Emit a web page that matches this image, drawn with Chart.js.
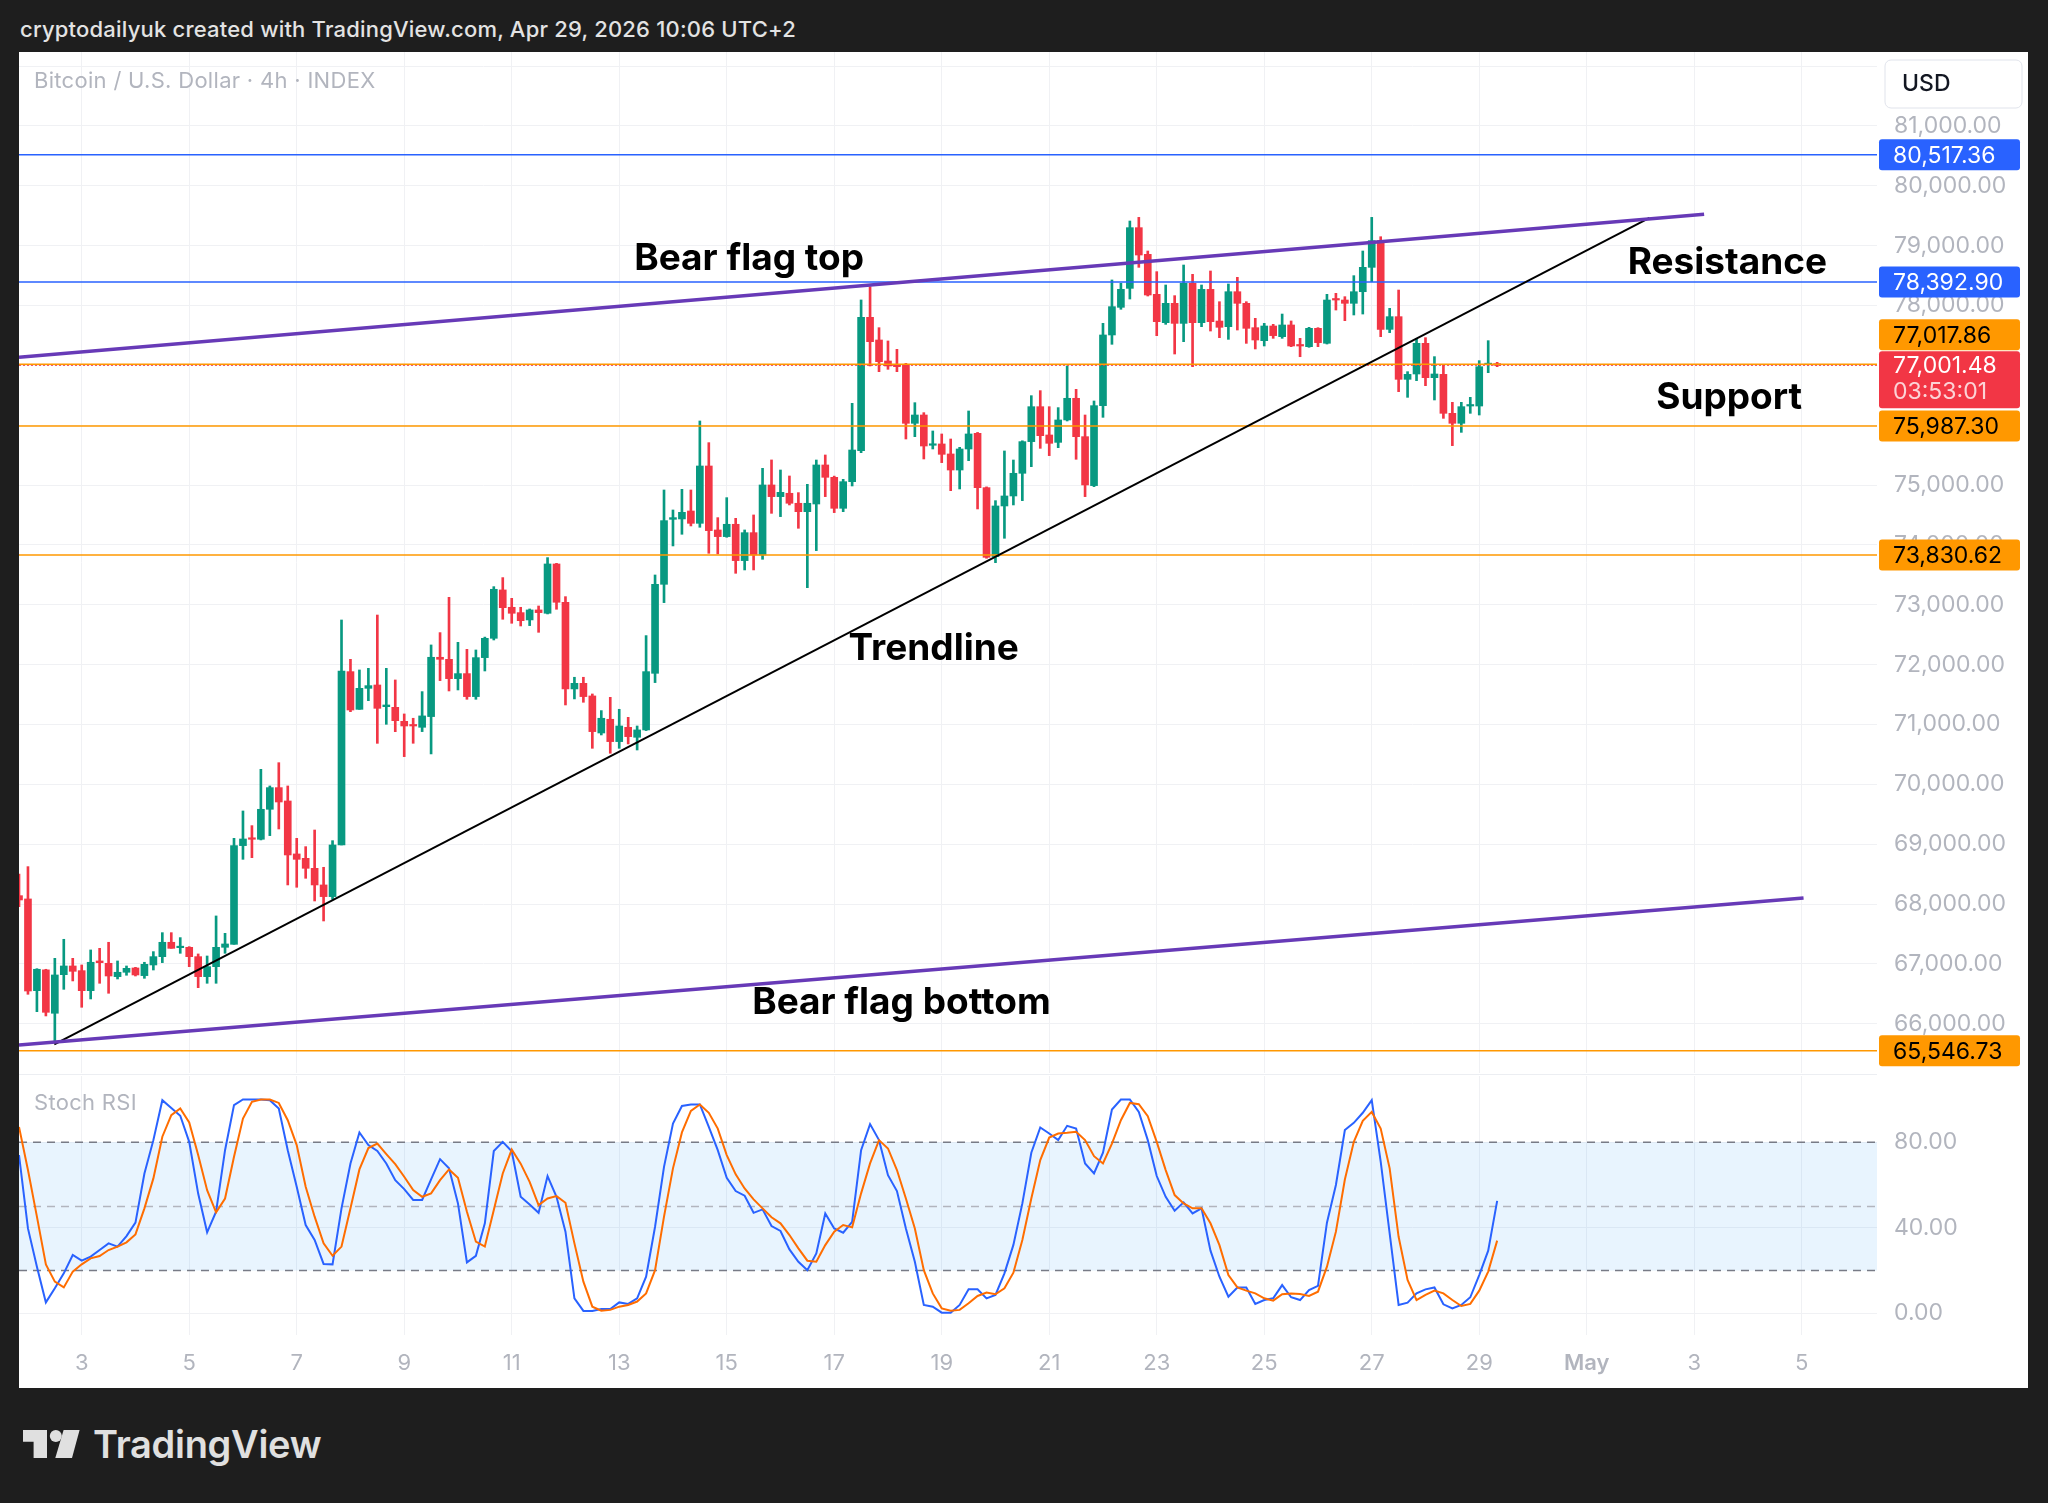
<!DOCTYPE html>
<html lang="en">
<head>
<meta charset="utf-8">
<title>Bitcoin / U.S. Dollar · 4h</title>
<script src="https://cdn.jsdelivr.net/npm/chart.js@4.4.1/dist/chart.umd.min.js"></script>
<style>
  html, body { margin: 0; padding: 0; }
  body { position: relative; width: 2048px; height: 1503px; background: #1e1e1e; overflow: hidden; font-family: Inter, "Noto Sans", sans-serif; }
  #header { position: absolute; left: 20px; top: 16px; color: #e3e3e3; font-size: 22px; font-weight: 500; letter-spacing: 0.2px; white-space: nowrap; }
  #panel { position: absolute; left: 19px; top: 52px; width: 2009px; height: 1336px; background: #fff; }
  #mainCanvas { position: absolute; left: 0; top: 0; }
  #stochCanvas { position: absolute; left: 0; top: 1024px; }
  #divider { position: absolute; left: 0; top: 1022px; width: 1858px; height: 1px; background: #eceef2; }
  .pane-title { position: absolute; left: 15px; color: #b2b5be; font-size: 22px; letter-spacing: 0.3px; white-space: nowrap; }
  #footer { position: absolute; left: 23px; top: 1430px; height: 28px; display: flex; align-items: center; color: #e0e0e0; }
  #footer span { margin-left: 13px; font-size: 38px; font-weight: 600; letter-spacing: -0.3px; }
</style>
</head>
<body>
<div id="header">cryptodailyuk created with TradingView.com, Apr 29, 2026 10:06 UTC+2</div>
<div id="panel">
  <canvas id="mainCanvas" width="2009" height="1021"></canvas>
  <div id="divider"></div>
  <canvas id="stochCanvas" width="2009" height="312"></canvas>
  <div class="pane-title" style="top:15px;">Bitcoin / U.S. Dollar · 4h · INDEX</div>
  <div class="pane-title" style="top:1037px;">Stoch RSI</div>
</div>
<div id="footer">
  <svg width="57" height="28" viewBox="0 0 57 28">
    <path d="M0 0H24V28H10.6V11.7H0Z" fill="#e0e0e0"/>
    <circle cx="32.8" cy="6" r="6" fill="#e0e0e0"/>
    <path d="M40.6 0H56.6L49 28H32.3Z" fill="#e0e0e0"/>
  </svg>
  <span>TradingView</span>
</div>

<script>
// 4h candles, index 0 = Apr 1 20:00, one step per candle
const opens = [68140,68085,66553,66900,66175,66820,66965,66887,66553,67049,
  67010,66787,66860,66932,66804,66982,67121,67361,67271,67277,
  67121,66787,66954,67277,67327,68976,69104,69082,69583,69945,
  69722,68837,68764,68597,68319,68124,68987,71883,71253,71604,
  71660,71298,71287,71053,70998,70953,71132,72123,72089,71766,
  71850,71466,72117,72440,73248,72958,72869,72747,72914,72858,
  73682,73042,71594,71688,71477,70858,71087,70714,70953,70786,
  70909,71855,73342,74428,74434,74567,74361,75319,74250,74139,
  74345,73738,74205,73832,75002,74807,74863,74696,74556,74684,
  75336,75130,74612,75057,75575,77803,77424,77073,77006,77006,
  76032,76171,75665,75687,75520,75252,75603,75865,74957,73805,
  74651,74818,75197,75726,76310,75837,75714,76088,76450,75809,
  74991,76327,77508,77970,78287,79301,78855,78187,77714,78037,
  77702,78371,77714,78270,77741,77647,78231,78037,77630,77413,
  77658,77480,77675,77340,77313,77619,77369,78109,78092,78037,
  78231,78638,79084,77602,77814,76767,76856,77368,76795,76850,
  76199,76032,76321,76321,77012,77029];
const highs = [68502,68625,66920,66910,67093,67411,67093,66982,67233,67260,
  67361,67049,66965,66943,67027,67205,67522,67522,67439,67288,
  67166,67132,67801,67511,69098,69555,69310,70251,69973,70362,
  69973,69098,68959,69237,68614,69059,72746,72089,71911,71938,
  72829,71938,71744,71176,71104,71549,72329,72535,73125,72373,
  72256,72245,72460,73303,73454,73108,72958,72930,72980,73788,
  73693,73136,71789,71789,71510,71232,71454,71254,71120,70975,
  72485,73498,74918,74584,74929,74918,76071,75709,74456,74790,
  74445,74250,74501,75280,75420,75252,75152,74874,75013,75419,
  75503,75150,75096,76366,78093,78315,77630,77408,77268,77034,
  76377,76210,75904,75854,75770,75631,76238,75880,74970,74740,
  75570,75419,75740,76494,76578,76310,76294,76990,76600,76171,
  76405,77703,78427,78371,79412,79473,78911,78566,78343,78165,
  78677,78521,78343,78577,78064,78360,78471,78064,77786,77702,
  77686,77858,77742,77452,77636,77630,78187,78204,78148,78499,
  78911,79473,79150,77953,78259,76895,77452,77463,77146,77006,
  76383,76383,76466,77079,77413,77051];
const lows = [67957,66492,66202,66130,65684,66575,66715,66275,66414,66676,
  66509,66748,66810,66798,66759,66898,67021,67260,67177,66954,
  66603,66676,66676,67177,67327,68747,68775,69071,69143,69254,
  68319,68280,68430,68051,67717,68079,68987,71214,71253,71398,
  70685,71003,70880,70463,70686,70881,70508,71733,71560,71577,
  71421,71421,71894,72412,72758,72691,72646,72652,72540,72847,
  72925,71326,71427,71371,70602,70825,70519,70602,70675,70574,
  70898,71700,73036,73983,74178,74317,74295,73860,73849,74128,
  73526,73582,73582,73760,74528,74473,74668,74278,73286,73905,
  74807,74540,74556,74985,75542,76990,76895,76934,76895,75770,
  75809,75436,75603,75375,74907,74935,75408,74601,73777,73704,
  74111,74668,74740,75308,75614,75492,75625,76071,75431,74807,
  74974,76132,77352,77937,78109,78638,78159,77496,77686,77190,
  77396,76978,77647,77574,77463,77435,77591,77368,77274,77324,
  77452,77452,77313,77145,77302,77313,77357,77925,77747,77842,
  77858,78399,77480,77547,76561,76466,76745,76661,76422,76115,
  75659,75881,76199,76171,76878,76978];
const closes = [68068,66547,66910,66191,66815,66965,66876,66553,67027,67020,
  66798,66860,66926,66815,66993,67121,67361,67260,67288,67121,
  66787,66954,67277,67333,68976,69087,69082,69583,69945,69705,
  68820,68747,68597,68319,68124,68987,71894,71242,71604,71649,
  71270,71326,71064,70975,70975,71143,72123,72089,71766,71850,
  71466,72117,72440,73259,72952,72858,72735,72914,72869,73682,
  73042,71594,71688,71466,70881,71104,70714,70975,70797,70909,
  71883,73342,74406,74456,74545,74361,75319,74239,74139,74345,
  73738,74205,73832,75002,74807,74879,74696,74556,74696,75336,
  75130,74612,75057,75586,77803,77396,77062,76990,76979,76032,
  76171,75653,75687,75514,75252,75603,75854,74957,73793,74651,
  74818,75197,75726,76310,75826,75698,76088,76450,75809,75002,
  76327,77508,77981,78271,79301,78844,78176,77730,78037,77702,
  78371,77714,78270,77730,77636,78231,78037,77619,77424,77658,
  77497,77675,77324,77324,77619,77380,78092,78092,78037,78231,
  78638,79084,77602,77814,76767,76850,77368,76795,76856,76199,
  76032,76310,76338,76978,77029,77001.48];

// Stoch RSI %K and %D, one value per candle
const stochK = [74,39.7,21.8,5.1,11.7,18.7,27.3,24.6,26.5,29.6,
  32.7,31.2,36.1,42.4,65.4,81,99.7,96,92.4,80.2,
  56,37.9,47.5,76.3,97.4,100,100,100,99.7,95.8,
  76.3,59.2,41.3,34.3,23.1,22.9,49.1,70.1,84.6,78.7,
  75.9,70.1,62.3,58.1,53,53,62.6,72.1,67.8,51.4,
  23.8,26.9,42.1,75.9,80.2,75.8,54.5,50.9,47,64.2,
  54.5,38.2,7,1.1,1.1,2,2,5.1,4.4,7,
  17.1,40.5,68.5,88.8,97,97.7,97.7,87.2,76.3,63.4,
  57.2,55,47,48.6,40.8,38.5,29.9,24.1,20.2,28,
  46.7,39.7,37.7,42.8,76.3,88.5,81,64.6,57.2,39.7,
  24.1,3.9,3.1,0.3,0.3,3.9,11.2,11.2,7,8.6,
  18.7,32,51.4,75.1,86.9,84.1,81,87.7,86.4,70.1,
  65.4,75.1,95.3,100,100,94.2,81,64.2,54.5,48,
  51.9,46.7,49.1,29.3,17.1,7.8,12.1,12.1,4.4,6.2,
  7,13.2,7.5,6.2,10.9,12.8,42.4,60,85.7,89.1,
  93.8,99.7,70.9,37.4,3.9,5,9.3,11.2,12.1,4.2,
  2.3,3.9,7.5,17.9,29.3,52.6];
const stochD = [87.2,67,45.2,22.9,14.8,12.1,19.5,22.9,25.7,26.8,
  29.6,31.2,33.2,36.9,49.1,63.1,82.6,92.7,95.8,89.3,
  74,57.6,47.2,53.7,73.2,91.1,98.9,100,100,98.4,
  90.3,78.7,59.2,45.2,32.7,26.9,31.2,49.1,67.3,77.3,
  79.4,74.5,69.8,63.9,57.6,54.5,56.1,62.3,67.3,63.4,
  47.5,33.5,31.2,48.3,65.4,76.6,70,61.5,50.6,53.7,
  54.8,51.7,32.7,14.8,3.1,1.2,1.6,3.1,3.9,5.5,
  9.3,20.2,45.2,67.8,84.6,94.7,97.7,93.8,86.4,74,
  65,58.4,53.3,49.1,44.9,42.1,36.6,30.4,24.6,24.1,
  31.9,38.2,41.3,40.2,56.1,70.1,81,77.1,67,53.7,
  39.7,20.2,9.3,2.3,1.2,1.6,4.7,8.1,9.7,8.9,
  11.7,19,34.3,53.7,71.7,82.2,84.1,84.4,84.9,81,
  73.5,70.1,79.4,90.3,98.4,97.8,92.2,80.2,67,55.3,
  51.4,49.1,49.1,42.1,31.9,17.9,12.1,10.6,9.3,7,
  5.9,8.9,9.3,9,8.1,10.1,21.8,38.2,62.6,80.2,
  90,94.2,86.4,67.8,35.8,15.6,6.2,8.6,10.6,9.3,
  6.2,3.4,4.4,10.6,19.5,34];

// time axis: candle index of each labelled day (00:00)
const tickIndex = [7,19,31,43,55,67,79,91,103,115,127,139,151,163,175,187,199];
const tickLabels = ['3','5','7','9','11','13','15','17','19','21','23','25','27','29','May','3','5'];
const priceTicks = [66000,67000,68000,69000,70000,71000,72000,73000,74000,75000,76000,77000,78000,79000,80000,81000,82000];
const stochTicks = [0, 40, 80];

// horizontal levels and the last price
const levels = [80517.36, 78392.90, 77017.86, 75987.30, 73830.62, 65546.73];
const levelKinds = ['blue', 'blue', 'orange', 'orange', 'orange', 'orange'];
const lastPrice = 77001.48;
const countdown = '03:53:01';

// drawn lines, [candle index, price]
const flagTop = [[0, 77135], [188.1, 79526]];
const flagBottom = [[0, 65645], [199.2, 68101]];
const trendLine = [[3.94, 65657], [182, 79463]];

// text notes, [label, candle index, price]
const notes = [
  ['Bear flag top', 81.5, 78784],
  ['Resistance', 190.7, 78719],
  ['Support', 190.9, 76455],
  ['Trendline', 102.1, 72261],
  ['Bear flag bottom', 98.5, 66347]
];

// view ranges
const X_MIN = 0, X_MAX = 207.4;
const Y_MIN = 65177, Y_MAX = 82236;
const S_MIN = -10.15, S_MAX = 111;

const up = '#089981';
const down = '#F23645';
const gridColor = '#f0f1f4';
const axisText = '#b2b5be';
const levelStyle = {
  blue: { line: '#2962FF', box: '#2962FF', text: '#ffffff' },
  orange: { line: '#FF9800', box: '#FF9800', text: '#000000' }
};

const fmt = v => v.toLocaleString('en-US', { minimumFractionDigits: 2, maximumFractionDigits: 2 });
const toPoints = pts => pts.map(p => ({ x: p[0], y: p[1] }));
const hline = v => [{ x: X_MIN, y: v }, { x: X_MAX, y: v }];
const candleColor = ctx => closes[ctx.dataIndex] >= opens[ctx.dataIndex] ? up : down;

function fixWidth(w) {
    return function(scale) {
        scale.width = w;
        scale.paddingTop = 0;
        scale.paddingBottom = 0;
    };
}

// Boîtes de prix sur l'échelle de droite
const mainDecor = {
    id: 'mainDecor',
    afterDatasetsDraw(chart) {
        const { ctx, scales: { x, y } } = chart;
        ctx.save();
        ctx.font = '700 37px Inter';
        ctx.fillStyle = '#000';
        ctx.textAlign = 'center';
        ctx.textBaseline = 'middle';
        notes.forEach(n => ctx.fillText(n[0], x.getPixelForValue(n[1]), y.getPixelForValue(n[2])));
        ctx.restore();
    },
    afterDraw(chart) {
        const { ctx, chartArea, scales: { y } } = chart;
        const bx = chartArea.right + 2, bw = 141, tx = chartArea.right + 16;
        ctx.save();

        // USD button
        ctx.beginPath();
        ctx.roundRect(chartArea.right + 8, 8, 137, 48, 6);
        ctx.fillStyle = '#fff';
        ctx.fill();
        ctx.strokeStyle = '#e0e3eb';
        ctx.lineWidth = 1;
        ctx.stroke();
        ctx.font = '500 23px Inter';
        ctx.fillStyle = '#131722';
        ctx.textBaseline = 'middle';
        ctx.textAlign = 'left';
        ctx.fillText('USD', chartArea.right + 25, 32);

        ctx.font = '23px Inter';
        const cy = y.getPixelForValue(lastPrice);
        const cur = { top: cy - 14, h: 57 };
        const placed = [cur];
        const boxes = levels.map((v, i) => ({ v: v, kind: levelKinds[i], top: y.getPixelForValue(v) - 15.5, h: 31 }));
        boxes.forEach(b => {
            placed.forEach(p => {
                if (b.top < p.top + p.h && b.top + b.h > p.top) b.top = p.top - b.h - 1;
            });
            placed.push(b);
        });
        boxes.forEach(b => {
            const st = levelStyle[b.kind];
            ctx.beginPath();
            ctx.roundRect(bx, b.top, bw, b.h, 3);
            ctx.fillStyle = st.box;
            ctx.fill();
            ctx.fillStyle = st.text;
            ctx.fillText(fmt(b.v), tx, b.top + b.h / 2 + 1);
        });

        ctx.beginPath();
        ctx.roundRect(bx, cur.top, bw, cur.h, 3);
        ctx.fillStyle = down;
        ctx.fill();
        ctx.fillStyle = '#fff';
        ctx.fillText(fmt(lastPrice), tx, cy + 1);
        ctx.fillStyle = 'rgba(255,255,255,0.78)';
        ctx.fillText(countdown, tx, cy + 27);
        ctx.restore();
    }
};

const levelSets = levels.map((v, i) => ({
    type: 'line',
    data: hline(v),
    borderColor: levelStyle[levelKinds[i]].line,
    borderWidth: 1.5,
    pointRadius: 0,
    order: 5
}));

new Chart(document.getElementById('mainCanvas'), {
    type: 'bar',
    data: {
        datasets: [
            {
                label: 'wicks',
                data: highs.map((h, i) => ({ x: i, y: [lows[i], h] })),
                backgroundColor: candleColor,
                barThickness: 2,
                grouped: false,
                order: 20
            },
            {
                label: 'bodies',
                data: opens.map((o, i) => ({ x: i, y: [o, closes[i]] })),
                backgroundColor: candleColor,
                barThickness: 7,
                minBarLength: 1.5,
                grouped: false,
                order: 19
            },
            {
                type: 'line',
                data: hline(lastPrice),
                borderColor: down,
                borderWidth: 1,
                borderDash: [2, 2],
                pointRadius: 0,
                order: 6
            },
            ...levelSets,
            { type: 'line', data: toPoints(trendLine), borderColor: '#000', borderWidth: 2, pointRadius: 0, order: 3 },
            { type: 'line', data: toPoints(flagTop), borderColor: '#673ab7', borderWidth: 3.5, pointRadius: 0, order: 2 },
            { type: 'line', data: toPoints(flagBottom), borderColor: '#673ab7', borderWidth: 3.5, pointRadius: 0, order: 2 }
        ]
    },
    options: {
        responsive: false,
        animation: false,
        devicePixelRatio: 1,
        events: [],
        layout: { padding: 0 },
        plugins: { legend: { display: false }, tooltip: { enabled: false } },
        scales: {
            x: {
                type: 'linear',
                min: X_MIN,
                max: X_MAX,
                offset: false,
                grid: { color: gridColor, drawTicks: false, offset: false },
                border: { display: false },
                ticks: { display: false },
                afterBuildTicks: s => { s.ticks = tickIndex.map(v => ({ value: v })); },
                afterFit: s => { s.height = 0; s.paddingLeft = 0; s.paddingRight = 0; }
            },
            y: {
                type: 'linear',
                position: 'right',
                min: Y_MIN,
                max: Y_MAX,
                grid: { color: gridColor, drawTicks: false },
                border: { display: false },
                ticks: {
                    color: axisText,
                    font: { family: 'Inter', size: 23 },
                    padding: 17,
                    callback: v => v > 81000 ? '' : fmt(v)
                },
                afterBuildTicks: s => { s.ticks = priceTicks.map(v => ({ value: v })); },
                afterFit: fixWidth(151)
            }
        }
    },
    plugins: [mainDecor]
});

// Zone 20-80 et lignes pointillées du Stoch RSI
const stochBand = {
    id: 'stochBand',
    beforeDatasetsDraw(chart) {
        const { ctx, chartArea: a, scales: { y } } = chart;
        const y80 = y.getPixelForValue(80), y50 = y.getPixelForValue(50), y20 = y.getPixelForValue(20);
        ctx.save();
        ctx.fillStyle = 'rgba(33,150,243,0.1)';
        ctx.fillRect(a.left, y80, a.right - a.left, y20 - y80);
        ctx.lineWidth = 1.5;
        ctx.setLineDash([8, 6]);
        [[y80, '#787b86'], [y50, '#b2b5be'], [y20, '#787b86']].forEach(([py, c]) => {
            ctx.strokeStyle = c;
            ctx.beginPath();
            ctx.moveTo(a.left, py);
            ctx.lineTo(a.right, py);
            ctx.stroke();
        });
        ctx.restore();
    }
};

new Chart(document.getElementById('stochCanvas'), {
    type: 'line',
    data: {
        datasets: [
            { data: stochK.map((v, i) => ({ x: i, y: v })), borderColor: '#2962FF', borderWidth: 2, pointRadius: 0, tension: 0, order: 2 },
            { data: stochD.map((v, i) => ({ x: i, y: v })), borderColor: '#FF6D00', borderWidth: 2, pointRadius: 0, tension: 0, order: 1 }
        ]
    },
    options: {
        responsive: false,
        animation: false,
        devicePixelRatio: 1,
        events: [],
        layout: { padding: 0 },
        plugins: { legend: { display: false }, tooltip: { enabled: false } },
        scales: {
            x: {
                type: 'linear',
                min: X_MIN,
                max: X_MAX,
                offset: false,
                grid: { color: gridColor, drawTicks: false, offset: false },
                border: { display: false },
                ticks: {
                    color: axisText,
                    padding: 15,
                    autoSkip: false,
                    maxRotation: 0,
                    font: ctx => ({ family: 'Inter', size: 22, weight: tickLabels[ctx.index] === 'May' ? '600' : '400' }),
                    callback: (v, i) => tickLabels[i]
                },
                afterBuildTicks: s => { s.ticks = tickIndex.map(v => ({ value: v })); },
                afterFit: s => { s.height = 53; s.paddingLeft = 0; s.paddingRight = 0; }
            },
            y: {
                type: 'linear',
                position: 'right',
                min: S_MIN,
                max: S_MAX,
                grid: { color: gridColor, drawTicks: false },
                border: { display: false },
                ticks: {
                    color: axisText,
                    font: { family: 'Inter', size: 23 },
                    padding: 17,
                    callback: v => v.toFixed(2)
                },
                afterBuildTicks: s => { s.ticks = stochTicks.map(v => ({ value: v })); },
                afterFit: fixWidth(151)
            }
        }
    },
    plugins: [stochBand]
});
</script>
</body>
</html>
